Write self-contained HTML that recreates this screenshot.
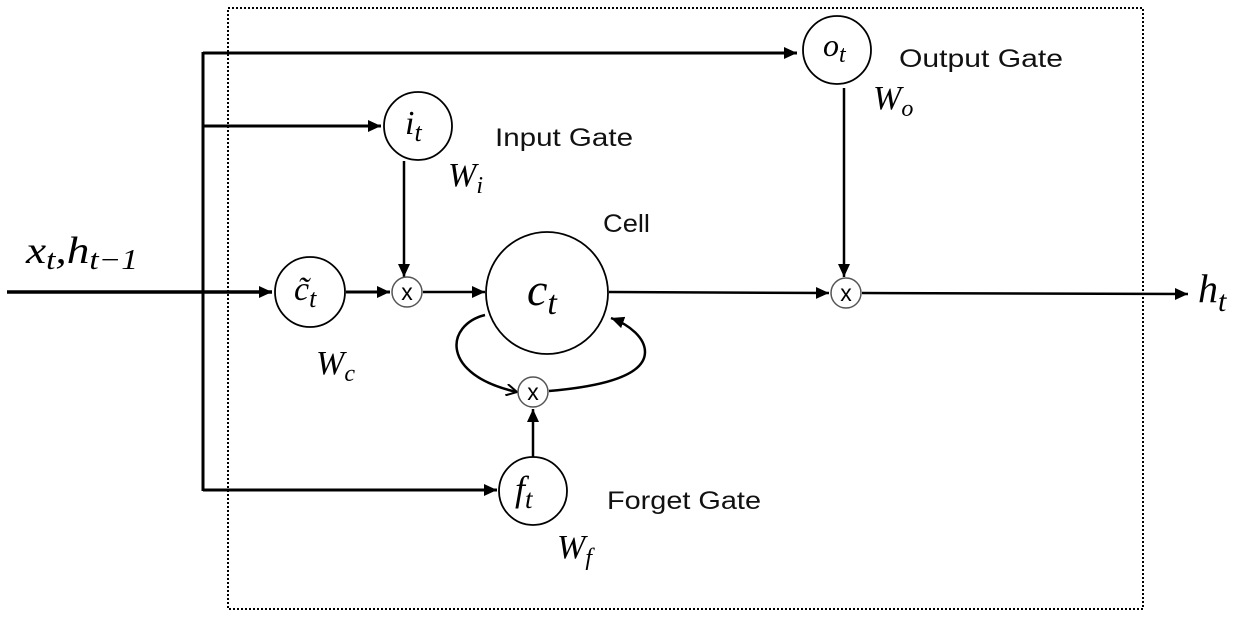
<!DOCTYPE html>
<html><head><style>
html,body{margin:0;padding:0;background:#fff;}
svg{display:block;}
.m{font-family:"Liberation Serif",serif;font-style:italic;}
.s{font-family:"Liberation Sans",sans-serif;}
</style></head><body>
<svg width="1249" height="620" viewBox="0 0 1249 620" xmlns="http://www.w3.org/2000/svg">
<defs>
<marker id="a2" markerWidth="14" markerHeight="14" refX="13" refY="7" orient="auto" markerUnits="userSpaceOnUse"><path d="M0,1 L13,7 L0,13 Z" fill="#000"/></marker>
<marker id="v" markerWidth="12" markerHeight="12" refX="11" refY="6" orient="auto" markerUnits="userSpaceOnUse"><path d="M0,0 L11,6 L0,12" fill="none" stroke="#000" stroke-width="2"/></marker>
</defs>
<rect x="228" y="8" width="915" height="601" fill="none" stroke="#000" stroke-width="2" stroke-dasharray="2,2"/>
<g stroke="#000" fill="none">
<line x1="7" y1="292" x2="272" y2="292" stroke-width="3.5" marker-end="url(#a2)"/>
<line x1="203" y1="52" x2="203" y2="491" stroke-width="3"/>
<line x1="203" y1="53" x2="797" y2="53" stroke-width="3" marker-end="url(#a2)"/>
<line x1="203" y1="126" x2="381" y2="126" stroke-width="3" marker-end="url(#a2)"/>
<line x1="203" y1="490" x2="497" y2="490" stroke-width="3" marker-end="url(#a2)"/>
<line x1="346" y1="292" x2="390" y2="292" stroke-width="3" marker-end="url(#a2)"/>
<line x1="423" y1="292" x2="485" y2="292" stroke-width="2.5" marker-end="url(#a2)"/>
<line x1="404" y1="161" x2="404" y2="277" stroke-width="2.5" marker-end="url(#a2)"/>
<line x1="609" y1="292" x2="829" y2="293" stroke-width="2.5" marker-end="url(#a2)"/>
<line x1="844" y1="88" x2="844" y2="277" stroke-width="2.5" marker-end="url(#a2)"/>
<line x1="862" y1="293" x2="1188" y2="294" stroke-width="2.5" marker-end="url(#a2)"/>
<line x1="533" y1="457" x2="533" y2="409" stroke-width="2.5" marker-end="url(#a2)"/>
<path d="M485,315 C445,325 440,375 517,392" stroke-width="2.5" marker-end="url(#v)"/>
<path d="M549,391 C620,385 645,370 645,352 C645,338 630,325 611,318" stroke-width="2.5" marker-end="url(#a2)"/>
<circle cx="837" cy="50" r="34" stroke-width="1.8"/>
<circle cx="418" cy="126" r="34" stroke-width="1.8"/>
<circle cx="310" cy="292" r="35" stroke-width="1.8"/>
<circle cx="547" cy="293" r="61" stroke-width="1.8"/>
<circle cx="533" cy="491" r="34" stroke-width="1.8"/>
<circle cx="407" cy="292" r="15" stroke-width="1.5" stroke="#555"/>
<circle cx="533" cy="392" r="15" stroke-width="1.5" stroke="#555"/>
<circle cx="846" cy="293" r="15" stroke-width="1.5" stroke="#555"/>
</g>
<g class="s" font-size="23" text-anchor="middle" fill="#000">
<text x="407" y="300">x</text>
<text x="533" y="400">x</text>
<text x="846" y="301">x</text>
</g>
<g class="s" font-size="25" fill="#111">
<text x="899" y="67" textLength="164" lengthAdjust="spacingAndGlyphs">Output Gate</text>
<text x="495" y="146" textLength="138" lengthAdjust="spacingAndGlyphs">Input Gate</text>
<text x="603" y="232" textLength="47" lengthAdjust="spacingAndGlyphs">Cell</text>
<text x="607" y="509" textLength="154" lengthAdjust="spacingAndGlyphs">Forget Gate</text>
</g>
<g class="m" fill="#000">
<text x="26" y="263" font-size="38" textLength="112" lengthAdjust="spacingAndGlyphs">x<tspan font-size="28" dy="6">t</tspan><tspan dy="-6">,h</tspan><tspan font-size="28" dy="6">t−1</tspan></text>
<text x="1198" y="302" font-size="40">h<tspan font-size="30" dy="9">t</tspan></text>
<text x="823" y="56" font-size="32">o<tspan font-size="24" dy="6">t</tspan></text>
<text x="405" y="134" font-size="34">i<tspan font-size="26" dy="7">t</tspan></text>
<text x="294" y="300" font-size="34">c̃<tspan font-size="26" dy="7">t</tspan></text>
<text x="527" y="305" font-size="46">c<tspan font-size="34" dy="9">t</tspan></text>
<text x="515" y="501" font-size="36">f<tspan font-size="27" dy="7">t</tspan></text>
<text x="873" y="109" font-size="34">W<tspan font-size="24" dy="7">o</tspan></text>
<text x="448" y="186" font-size="34">W<tspan font-size="24" dy="7">i</tspan></text>
<text x="316" y="374" font-size="34">W<tspan font-size="24" dy="7">c</tspan></text>
<text x="557" y="558" font-size="34">W<tspan font-size="24" dy="7">f</tspan></text>
</g>
</svg>
</body></html>
